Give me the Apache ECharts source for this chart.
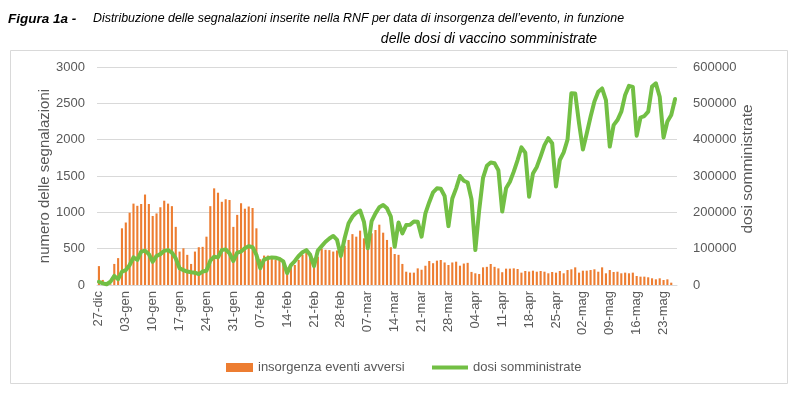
<!DOCTYPE html>
<html><head><meta charset="utf-8">
<script src="https://cdn.jsdelivr.net/npm/echarts@6/dist/echarts.min.js"></script>
<style>html,body{margin:0;padding:0;background:#fff}#c{width:800px;height:396px}</style>
</head><body><div id="c"></div>
<script>
// Daily categories 27-dic .. 26-mag
const monthSpans = [['dic',27,31],['gen',1,31],['feb',1,28],['mar',1,31],['apr',1,30],['mag',1,26]];
const categories = [];
monthSpans.forEach(([m,a,b]) => { for (let d = a; d <= b; d++) categories.push((d < 10 ? '0' : '') + d + '-' + m); });

// insorgenza eventi avversi (left axis)
const adverseEvents = [
 260,70,15,10,290,370,780,860,995,1120,
 1090,1115,1245,1115,950,985,1070,1160,1120,1085,
 800,460,505,415,290,460,520,525,665,1085,
 1330,1270,1145,1180,1170,800,965,1125,1050,1080,
 1060,780,355,405,405,380,345,380,345,185,
 260,275,345,415,460,435,365,390,500,485,
 480,460,475,390,540,620,700,665,748,642,
 520,711,757,830,720,620,520,427,415,290,
 183,170,170,229,210,265,330,300,335,344,
 310,275,310,321,266,295,305,180,161,151,
 243,250,289,250,229,176,225,225,229,220,
 170,193,185,197,183,193,183,161,179,170,
 193,161,206,216,243,170,197,197,206,216,
 183,243,161,206,179,183,161,170,161,170,
 124,115,115,106,92,78,92,69,78,32,0
];

// dosi somministrate (right axis)
const dosesAdministered = [
 9000,4500,2000,9000,25000,16000,37000,41000,55000,76000,
 69000,92000,94500,85000,64000,80000,85000,94000,96000,89000,
 73000,46000,41000,37000,35000,34000,30000,37000,39000,67000,
 78000,76000,96000,98000,87000,66000,89000,92000,101000,107000,
 104000,83000,46000,70000,74000,76000,75000,72000,65000,33000,
 55000,66000,80000,90000,96000,83000,52000,95000,107000,119000,
 128000,135000,124000,80000,130000,170000,188000,199000,205000,174000,
 101000,176000,197000,214000,220000,211000,188000,105000,172000,142000,
 165000,166000,175000,174000,133000,197000,228000,255000,266000,265000,
 245000,162000,238000,266000,300000,287000,282000,236000,96000,206000,
 295000,328000,337000,335000,316000,202000,266000,284000,312000,344000,
 379000,364000,243000,307000,325000,354000,385000,404000,390000,271000,
 344000,365000,400000,528000,527000,445000,373000,417000,463000,505000,
 532000,541000,509000,381000,440000,454000,477000,523000,548000,545000,
 411000,461000,465000,477000,546000,555000,518000,406000,450000,468000,512000
];

const seriesNames = ['insorgenza eventi avversi', 'dosi somministrate'];
const FONT = "'Liberation Sans', Arial, sans-serif";
const GREY = '#595959';
const ORANGE = '#ED7D31';
const GREEN = '#72BF44';

const chart = echarts.init(document.getElementById('c'), null, {renderer: 'canvas'});
chart.setOption({
  animation: false,
  backgroundColor: '#fff',
  textStyle: {fontFamily: FONT},
  graphic: [
    {type: 'rect', shape: {x: 10.5, y: 50.5, width: 777, height: 333}, style: {fill: 'none', stroke: '#d9d9d9', lineWidth: 1}, silent: true, z: -10},
    {type: 'text', x: 8, y: 19, style: {text: 'Figura 1a -', font: "italic bold 13.5px " + FONT, fill: '#000', verticalAlign: 'middle'}},
    {type: 'text', x: 93, y: 19, style: {text: 'Distribuzione delle segnalazioni inserite nella RNF per data di insorgenza dell\u2019evento, in funzione', font: "italic 12.4px " + FONT, fill: '#000', verticalAlign: 'middle'}},
    {type: 'text', x: 489, y: 39, style: {text: 'delle dosi di vaccino somministrate', font: "italic 14px " + FONT, fill: '#000', align: 'center', verticalAlign: 'middle'}},
    {type: 'text', x: 45, y: 176, rotation: Math.PI / 2, style: {text: 'numero delle segnalazioni', font: "15px " + FONT, fill: GREY, align: 'center', verticalAlign: 'middle'}},
    {type: 'text', x: 748, y: 169, rotation: Math.PI / 2, style: {text: 'dosi somministrate', font: "15.5px " + FONT, fill: GREY, align: 'center', verticalAlign: 'middle'}}
  ],
  grid: {left: 97, right: 123, top: 67, bottom: 111, containLabel: false},
  legend: [
    {data: [seriesNames[0]], left: 221, top: 356, itemWidth: 27, itemHeight: 9, icon: 'rect',
     textStyle: {fontSize: 13, color: GREY, fontFamily: FONT}},
    {data: [{name: seriesNames[1], icon: 'rect', itemStyle: {color: GREEN}}], left: 427, top: 356, itemWidth: 36, itemHeight: 4,
     textStyle: {fontSize: 13, color: GREY, fontFamily: FONT}}
  ],
  xAxis: {
    type: 'category', data: categories, boundaryGap: true,
    axisLine: {lineStyle: {color: '#d9d9d9'}},
    axisTick: {interval: 6, length: 4, lineStyle: {color: '#d9d9d9'}},
    axisLabel: {interval: 6, rotate: 90, margin: 6, fontSize: 13, color: GREY, fontFamily: FONT}
  },
  yAxis: [
    {type: 'value', min: 0, max: 3000, interval: 500,
     axisLine: {show: false}, axisTick: {show: false},
     axisLabel: {margin: 12, fontSize: 13, color: GREY, fontFamily: FONT, formatter: v => String(v)},
     splitLine: {lineStyle: {color: '#d9d9d9'}}},
    {type: 'value', min: 0, max: 600000, interval: 100000, position: 'right',
     axisLine: {show: false}, axisTick: {show: false},
     axisLabel: {margin: 16, fontSize: 13, color: GREY, fontFamily: FONT, formatter: v => String(v)},
     splitLine: {show: false}}
  ],
  series: [
    {name: seriesNames[0], type: 'bar', yAxisIndex: 0, data: adverseEvents, barWidth: '55%',
     itemStyle: {color: ORANGE}},
    {name: seriesNames[1], type: 'line', yAxisIndex: 1, data: dosesAdministered, symbol: 'none', showSymbol: false,
     lineStyle: {color: GREEN, width: 4, join: 'round', cap: 'round'}, itemStyle: {color: GREEN}, z: 3}
  ]
});
</script></body></html>
